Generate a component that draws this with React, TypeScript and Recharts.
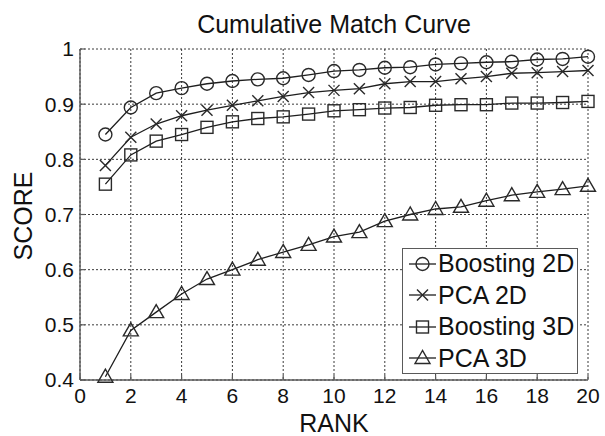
import React from 'react';
import { LineChart, Line, XAxis, YAxis, CartesianGrid, Legend } from 'recharts';

const ranks = [1, 2, 3, 4, 5, 6, 7, 8, 9, 10, 11, 12, 13, 14, 15, 16, 17, 18, 19, 20];
const boosting2D = [0.845, 0.894, 0.92, 0.929, 0.937, 0.942, 0.945, 0.947, 0.953, 0.96, 0.962, 0.966, 0.967, 0.972, 0.974, 0.976, 0.977, 0.981, 0.982, 0.986];
const pca2D = [0.789, 0.84, 0.864, 0.879, 0.889, 0.898, 0.906, 0.914, 0.921, 0.925, 0.928, 0.937, 0.941, 0.941, 0.946, 0.95, 0.956, 0.957, 0.959, 0.961];
const boosting3D = [0.755, 0.808, 0.833, 0.845, 0.858, 0.868, 0.874, 0.877, 0.882, 0.888, 0.89, 0.893, 0.894, 0.898, 0.899, 0.899, 0.902, 0.902, 0.903, 0.905];
const pca3D = [0.406, 0.49, 0.523, 0.556, 0.583, 0.6, 0.618, 0.632, 0.645, 0.66, 0.668, 0.688, 0.7, 0.71, 0.714, 0.725, 0.735, 0.741, 0.746, 0.752];

const xTicks = [0, 2, 4, 6, 8, 10, 12, 14, 16, 18, 20];
const yTicks = [0.4, 0.5, 0.6, 0.7, 0.8, 0.9, 1];
const seriesNames = ['Boosting 2D', 'PCA 2D', 'Boosting 3D', 'PCA 3D'];

const data = ranks.map((r, i) => ({
  rank: r,
  b2: boosting2D[i],
  p2: pca2D[i],
  b3: boosting3D[i],
  p3: pca3D[i],
}));

const FONT = '"Liberation Sans", Arial, Helvetica, sans-serif';
const LINE = '#1e1e1e';
const MARK = '#2a2a2a';
const AXIS = '#5a5a5a';

type Kind = 'circle' | 'x' | 'square' | 'triangle';

const markerShape = (kind: Kind, cx: number, cy: number) => {
  const sw = 1.4;
  if (kind === 'circle') return <circle cx={cx} cy={cy} r={6.5} fill="none" stroke={MARK} strokeWidth={sw} />;
  if (kind === 'x')
    return (
      <g stroke={MARK} strokeWidth={sw}>
        <line x1={cx - 5.5} y1={cy - 5.5} x2={cx + 5.5} y2={cy + 5.5} />
        <line x1={cx - 5.5} y1={cy + 5.5} x2={cx + 5.5} y2={cy - 5.5} />
      </g>
    );
  if (kind === 'square') return <rect x={cx - 6} y={cy - 6} width={12} height={12} fill="none" stroke={MARK} strokeWidth={sw} />;
  return (
    <polygon
      points={`${cx},${cy - 7.5} ${cx - 7.5},${cy + 5.5} ${cx + 7.5},${cy + 5.5}`}
      fill="none"
      stroke={MARK}
      strokeWidth={sw}
    />
  );
};

const makeDot = (kind: Kind) => (p: any) => {
  if (p.cx == null || p.cy == null) return <g key={`${kind}-${p.index}`} />;
  return <g key={`${kind}-${p.index}`}>{markerShape(kind, p.cx, p.cy)}</g>;
};

const kinds: Kind[] = ['circle', 'x', 'square', 'triangle'];

const LegendBox = () => (
  <div
    style={{
      width: 176,
      height: 126,
      boxSizing: 'border-box',
      border: `1.5px solid ${AXIS}`,
      background: '#fff',
      fontFamily: FONT,
    }}
  >
    {seriesNames.map((name, i) => (
      <div key={name} style={{ display: 'flex', alignItems: 'center', height: 31.5, marginTop: i === 0 ? -1 : 0 }}>
        <svg width={34} height={20} style={{ marginLeft: 4, flexShrink: 0 }}>
          <line x1={2} y1={10} x2={29} y2={10} stroke={LINE} strokeWidth={1.3} />
          {markerShape(kinds[i], 15.5, 10)}
        </svg>
        <span style={{ fontSize: 25, color: '#111', marginLeft: -3, lineHeight: '25px', whiteSpace: 'nowrap' }}>{name}</span>
      </div>
    ))}
  </div>
);

export default function App() {
  return (
    <div style={{ position: 'absolute', left: 0, top: 0, width: 605, height: 436, background: '#fff', fontFamily: FONT }}>
      <div
        style={{
          position: 'absolute',
          left: 80,
          top: 12,
          width: 508,
          textAlign: 'center',
          fontSize: 25,
          lineHeight: '25px',
          color: '#111',
        }}
      >
        Cumulative Match Curve
      </div>
      <LineChart width={605} height={436} data={data} margin={{ top: 49, right: 17, bottom: 0, left: 0 }}>
        <CartesianGrid stroke="#3a3a3a" strokeDasharray="2 2" strokeWidth={1} horizontalValues={yTicks} verticalValues={xTicks} />
        <XAxis
          dataKey="rank"
          type="number"
          domain={[0, 20]}
          ticks={xTicks}
          interval={0}
          height={56}
          axisLine={{ stroke: AXIS, strokeWidth: 1.4 }}
          tickLine={{ stroke: AXIS, strokeWidth: 1.2 }}
          tickSize={-5}
          tickMargin={13}
          tick={{ fill: '#111', fontSize: 21, fontFamily: FONT }}
          label={{ value: 'RANK', position: 'insideBottom', offset: 4, fill: '#111', fontSize: 25, fontFamily: FONT }}
        />
        <YAxis
          type="number"
          domain={[0.4, 1]}
          ticks={yTicks}
          interval={0}
          width={80}
          axisLine={{ stroke: AXIS, strokeWidth: 1.4 }}
          tickLine={{ stroke: AXIS, strokeWidth: 1.2 }}
          tickSize={-5}
          tickMargin={11}
          tickFormatter={(v: number) => (v === 1 ? '1' : v.toFixed(1))}
          tick={{ fill: '#111', fontSize: 21, fontFamily: FONT }}
          label={{
            content: () => (
              <text
                x={23}
                y={216}
                transform="rotate(-90 23 216)"
                textAnchor="middle"
                dominantBaseline="central"
                fill="#111"
                fontSize={25}
                fontFamily={FONT}
              >
                SCORE
              </text>
            ),
          }}
        />
        <Legend
          layout="horizontal"
          verticalAlign="middle"
          align="center"
          content={<LegendBox />}
          wrapperStyle={{ position: 'absolute', left: 402, top: 248, width: 176, height: 126 }}
        />
        <Line dataKey="b2" name="Boosting 2D" stroke={LINE} strokeWidth={1.3} dot={makeDot('circle')} isAnimationActive={false} />
        <Line dataKey="p2" name="PCA 2D" stroke={LINE} strokeWidth={1.3} dot={makeDot('x')} isAnimationActive={false} />
        <Line dataKey="b3" name="Boosting 3D" stroke={LINE} strokeWidth={1.3} dot={makeDot('square')} isAnimationActive={false} />
        <Line dataKey="p3" name="PCA 3D" stroke={LINE} strokeWidth={1.3} dot={makeDot('triangle')} isAnimationActive={false} />
      </LineChart>
    </div>
  );
}
